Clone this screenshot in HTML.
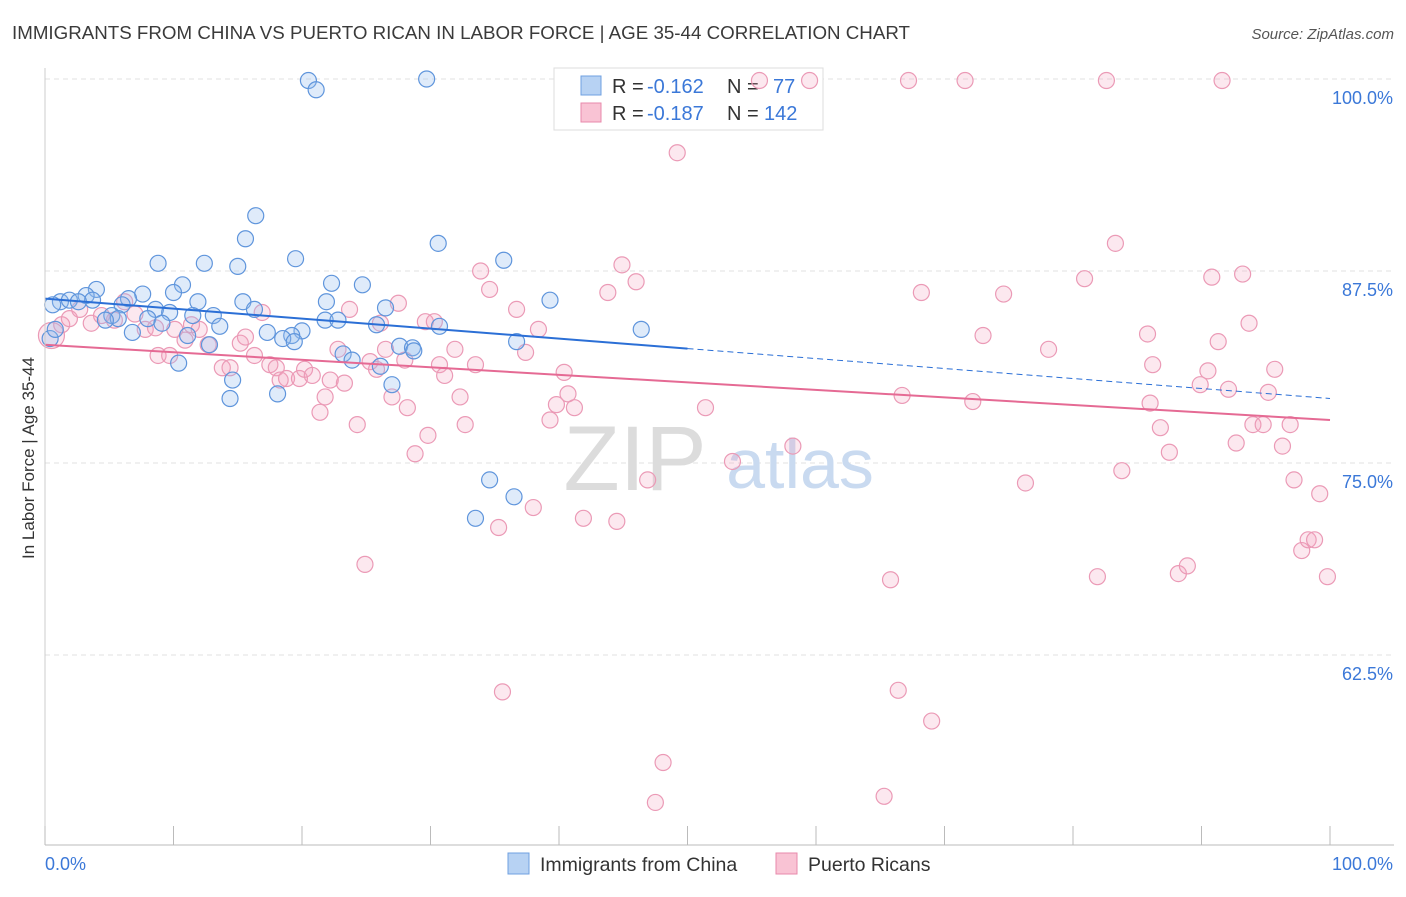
<!DOCTYPE html>
<html><head><meta charset="utf-8"><style>
body{margin:0;background:#fff;font-family:"Liberation Sans",Arial,sans-serif;}
svg text{font-family:"Liberation Sans",Arial,sans-serif;}
</style></head><body>
<svg id="chart" width="1406" height="892" viewBox="0 0 1406 892" xmlns="http://www.w3.org/2000/svg">
<text x="12" y="39" font-size="18" fill="#3a3a3a" textLength="898" lengthAdjust="spacingAndGlyphs">IMMIGRANTS FROM CHINA VS PUERTO RICAN IN LABOR FORCE | AGE 35-44 CORRELATION CHART</text>
<text x="1394" y="39" font-size="15" fill="#555" font-style="italic" text-anchor="end">Source: ZipAtlas.com</text>
<g id="grid"></g>
<g>
<text x="635" y="490" font-size="92" fill="#dcdcdc" text-anchor="middle" font-family="Liberation Serif">ZIP</text>
<text x="800" y="488" font-size="70" fill="#c9daf0" text-anchor="middle">atlas</text>
</g>
<g>
<rect x="554" y="68" width="269" height="62" fill="#fff" stroke="#ddd"/>
<rect x="581" y="76" width="20" height="19" fill="#b7d2f3" stroke="#6fa0e0"/>
<rect x="581" y="103" width="20" height="19" fill="#f9c3d4" stroke="#e88aab"/>
<text x="612" y="93" font-size="20" fill="#333">R =</text>
<text x="647" y="93" font-size="20" fill="#3b78d8">-0.162</text>
<text x="727" y="93" font-size="20" fill="#333">N =</text>
<text x="773" y="93" font-size="20" fill="#3b78d8">77</text>
<text x="612" y="120" font-size="20" fill="#333">R =</text>
<text x="647" y="120" font-size="20" fill="#3b78d8">-0.187</text>
<text x="727" y="120" font-size="20" fill="#333">N =</text>
<text x="764" y="120" font-size="20" fill="#3b78d8">142</text>
</g>
<g id="pts"></g>
<g id="trends"></g>
<g id="axes"></g>
<text transform="translate(34,458) rotate(-90)" font-size="17" fill="#333" text-anchor="middle">In Labor Force | Age 35-44</text>
<g>
<rect x="508" y="853" width="21" height="21" fill="#b7d2f3" stroke="#6fa0e0"/>
<text x="540" y="871" font-size="19.5" fill="#333">Immigrants from China</text>
<rect x="776" y="853" width="21" height="21" fill="#f9c3d4" stroke="#e88aab"/>
<text x="808" y="871" font-size="19.5" fill="#333">Puerto Ricans</text>
</g>
</svg>
<script>
const yTicks=[100,87.5,75,62.5];
const yTickLabels=["100.0%","87.5%","75.0%","62.5%"];
const xTickCount=10;
const blueX=[20.5,21.1,29.7,16.4,15.6,30.6,19.5,8.8,12.4,15.0,35.7,10.7,4.0,10.0,22.3,24.7,3.2,7.6,6.5,1.2,1.9,3.7,0.6,2.6,11.9,15.4,21.9,39.3,26.5,8.6,9.7,6.0,5.2,5.7,8.0,4.7,11.5,13.1,16.3,21.8,22.8,13.6,9.1,25.8,30.7,46.4,6.8,11.1,17.3,20.0,19.2,18.5,19.4,12.8,36.7,27.6,28.6,28.7,23.2,23.9,10.4,26.1,14.6,27.0,18.1,14.4,34.6,36.5,33.5,0.4,0.8];
const blueY=[99.9,99.3,100,91.1,89.6,89.3,88.3,88.0,88.0,87.8,88.2,86.6,86.3,86.1,86.7,86.6,85.9,86.0,85.7,85.5,85.6,85.6,85.3,85.5,85.5,85.5,85.5,85.6,85.1,85.0,84.8,85.3,84.6,84.4,84.4,84.3,84.6,84.6,85.0,84.3,84.3,83.9,84.1,84.0,83.9,83.7,83.5,83.3,83.5,83.6,83.3,83.1,82.9,82.7,82.9,82.6,82.5,82.3,82.1,81.7,81.5,81.3,80.4,80.1,79.5,79.2,73.9,72.8,71.4,83.1,83.7];
const pinkX=[0.5,1.3,1.9,2.7,3.6,4.4,5.4,6.2,7.0,7.8,8.6,8.8,9.7,10.1,10.9,11.4,12.0,12.7,13.8,14.4,15.2,15.6,16.3,16.9,17.5,18.0,18.3,18.8,19.8,20.2,20.8,21.4,21.8,22.2,22.8,23.3,23.7,24.3,24.9,25.3,25.8,26.1,26.5,27.0,27.5,28.0,28.2,28.8,29.6,29.8,30.3,30.7,31.1,31.9,32.3,32.7,33.5,33.9,34.6,35.3,35.6,36.7,37.4,38.0,38.4,39.3,39.8,40.4,40.7,41.2,41.9,43.8,44.5,44.9,46.0,46.9,48.1,47.5,49.2,51.4,53.5,55.6,58.2,59.5,65.8,66.4,66.7,67.2,68.2,69.0,71.6,72.2,73.0,74.6,76.3,78.1,80.9,81.9,82.6,83.3,83.8,85.8,86.0,86.2,86.8,87.5,88.2,88.9,89.9,90.5,90.8,91.3,91.6,92.1,92.7,93.2,93.7,94.0,94.8,95.2,95.7,96.3,96.9,97.2,97.8,98.3,98.8,99.2,99.8,65.3];
const pinkY=[83.3,84.0,84.4,85.0,84.1,84.6,84.3,85.5,84.7,83.7,83.8,82.0,82.0,83.7,83.0,84.0,83.7,82.7,81.2,81.2,82.8,83.2,82.0,84.8,81.4,81.2,80.4,80.5,80.5,81.1,80.7,78.3,79.3,80.4,82.4,80.2,85.0,77.5,68.4,81.6,81.1,84.1,82.4,79.3,85.4,81.7,78.6,75.6,84.2,76.8,84.2,81.4,80.7,82.4,79.3,77.5,81.4,87.5,86.3,70.8,60.1,85.0,82.2,72.1,83.7,77.8,78.8,80.9,79.5,78.6,71.4,86.1,71.2,87.9,86.8,73.9,55.5,52.9,95.2,78.6,75.1,99.9,76.1,99.9,67.4,60.2,79.4,99.9,86.1,58.2,99.9,79.0,83.3,86.0,73.7,82.4,87.0,67.6,99.9,89.3,74.5,83.4,78.9,81.4,77.3,75.7,67.8,68.3,80.1,81.0,87.1,82.9,99.9,79.8,76.3,87.3,84.1,77.5,77.5,79.6,81.1,76.1,77.5,73.9,69.3,70.0,70.0,73.0,67.6,53.3];
const blueTrend=[85.7,79.2];
const blueSolidEnd=50;
const pinkTrend=[82.7,77.8];
const NS="http://www.w3.org/2000/svg";
const X0=45,X1=1330,Y100=79,PX_PER=192/12.5;
function sx(v){return X0+(X1-X0)*v/100;}
function sy(v){return Y100+(100-v)*PX_PER;}
function mk(tag,attrs,parent){const e=document.createElementNS(NS,tag);for(const k in attrs)e.setAttribute(k,attrs[k]);parent.appendChild(e);return e;}
const grid=document.getElementById('grid');
yTicks.forEach((t,i)=>{
 const l=mk('line',{x1:X0,x2:1394,y1:sy(t),y2:sy(t),stroke:'#e2e2e2','stroke-dasharray':'5,4'},grid);
 
 
 const tx=mk('text',{x:1393,y:sy(t)+25,'font-size':18,fill:'#3b78d8','text-anchor':'end'},grid);
 tx.textContent=yTickLabels[i];
 
 
});
const axes=document.getElementById('axes');
mk('line',{x1:X0,x2:1394,y1:845,y2:845,stroke:'#bbb'},axes);
mk('line',{x1:X0,x2:X0,y1:68,y2:845,stroke:'#ccc'},axes);
for(let i=0;i<=xTickCount;i++){const t=mk('line',{x1:sx(i*10),x2:sx(i*10),y1:826,y2:845,stroke:'#bbb'},axes);
 
 }
let a=mk('text',{x:45,y:870,'font-size':18,fill:'#3b78d8'},axes);a.textContent='0.0%';


a=mk('text',{x:1393,y:870,'font-size':18,fill:'#3b78d8','text-anchor':'end'},axes);a.textContent='100.0%';


const pts=document.getElementById('pts');
pinkX.forEach((x,i)=>{const c=mk('circle',{cx:sx(x),cy:sy(pinkY[i]),r:i===0?13:8,fill:'rgba(245,165,192,0.25)',stroke:'#eb9ab6','stroke-width':1.2},pts);
 
 });
blueX.forEach((x,i)=>{const c=mk('circle',{cx:sx(x),cy:sy(blueY[i]),r:8,fill:'rgba(150,190,240,0.3)',stroke:'#5f95dc','stroke-width':1.2},pts);
 
 });
const tr=document.getElementById('trends');
function ty(t,x){return t[0]+(t[1]-t[0])*x/100;}
let l=mk('line',{x1:sx(0),y1:sy(ty(blueTrend,0)),x2:sx(blueSolidEnd),y2:sy(ty(blueTrend,blueSolidEnd)),stroke:'#2b6fd6','stroke-width':2},tr);


l=mk('line',{x1:sx(blueSolidEnd),y1:sy(ty(blueTrend,blueSolidEnd)),x2:sx(100),y2:sy(ty(blueTrend,100)),stroke:'#2b6fd6','stroke-width':1,'stroke-dasharray':'6,4'},tr);


l=mk('line',{x1:sx(0),y1:sy(ty(pinkTrend,0)),x2:sx(100),y2:sy(ty(pinkTrend,100)),stroke:'#e56a94','stroke-width':2},tr);


</script>
</body></html>
